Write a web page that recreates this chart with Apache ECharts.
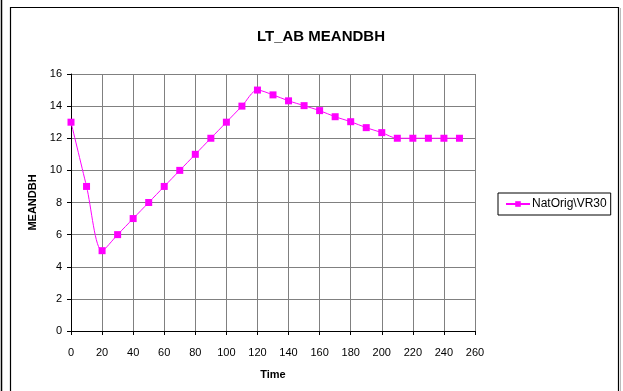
<!DOCTYPE html>
<html><head><meta charset="utf-8">
<script src="https://cdn.jsdelivr.net/npm/echarts@6/dist/echarts.min.js"></script>
<style>html,body{margin:0;padding:0;background:#fff}#c{width:623px;height:391px}</style>
</head><body><div id="c"></div>
<script>
const times = [0,10,20,30,40,50,60,70,80,90,100,110,120,130,140,150,160,170,180,190,200,210,220,230,240,250];
const meandbh = [13,9,5,6,7,8,9,10,11,12,13,14,15,14.7,14.33,14.03,13.72,13.34,13.03,12.66,12.35,12,12,12,12,12];
const seriesName = 'NatOrig\\VR30';
const titleText = 'LT_AB MEANDBH';
const xName = 'Time';
const yName = 'MEANDBH';

const chart = echarts.init(document.getElementById('c'), null, {renderer:'canvas'});
const font = '"Liberation Sans", Arial, sans-serif';
chart.setOption({
  animation:false,
  textStyle:{fontFamily:font},
  title:{text:titleText,left:316,top:24,textAlign:'center',textStyle:{fontSize:15,fontWeight:'bold',color:'#000',fontFamily:font}},
  graphic:[
    {type:'line',shape:{x1:1.5,y1:0,x2:1.5,y2:391},style:{stroke:'#000',lineWidth:1.5}},
    {type:'rect',shape:{x:10.5,y:7.5,width:608,height:400},style:{fill:null,stroke:'#000',lineWidth:1.2}},
    {type:'line',shape:{x1:620.5,y1:8,x2:620.5,y2:391},style:{stroke:'#bbb',lineWidth:1}}
  ],
  grid:{left:71,right:148,top:74,bottom:60,containLabel:false},
  legend:{show:true,left:498,top:193,padding:[5,4,5,7],borderColor:'#000',borderWidth:1,
    itemWidth:24,itemHeight:7,itemGap:0,textStyle:{fontSize:12,color:'#000',fontFamily:font,padding:[0,0,0,-3]},
    data:[{name:seriesName}]},
  xAxis:{type:'value',min:0,max:260,interval:20,name:xName,nameLocation:'middle',nameGap:38,
    nameTextStyle:{fontSize:11,fontWeight:'bold',color:'#000'},
    axisLine:{show:true,onZero:false,lineStyle:{color:'#000'}},
    axisTick:{show:true,inside:false,length:4,lineStyle:{color:'#000'}},
    axisLabel:{fontSize:11,color:'#000',margin:16},
    splitLine:{show:true,lineStyle:{color:'#808080',width:1}}},
  yAxis:{type:'value',min:0,max:16,interval:2,name:yName,nameLocation:'middle',nameGap:32,nameRotate:90,
    nameTextStyle:{fontSize:11,fontWeight:'bold',color:'#000'},
    axisLine:{show:true,onZero:false,lineStyle:{color:'#000'}},
    axisTick:{show:true,inside:false,length:4,lineStyle:{color:'#000'}},
    axisLabel:{fontSize:11,color:'#000',margin:9},
    splitLine:{show:true,lineStyle:{color:'#808080',width:1}}},
  series:[{name:seriesName,type:'line',data:times.map((t,i)=>[t,meandbh[i]]),smooth:0.3,
    symbol:'rect',symbolSize:7,showAllSymbol:true,
    lineStyle:{color:'#FF00FF',width:1},itemStyle:{color:'#FF00FF'}}]
});
</script></body></html>
